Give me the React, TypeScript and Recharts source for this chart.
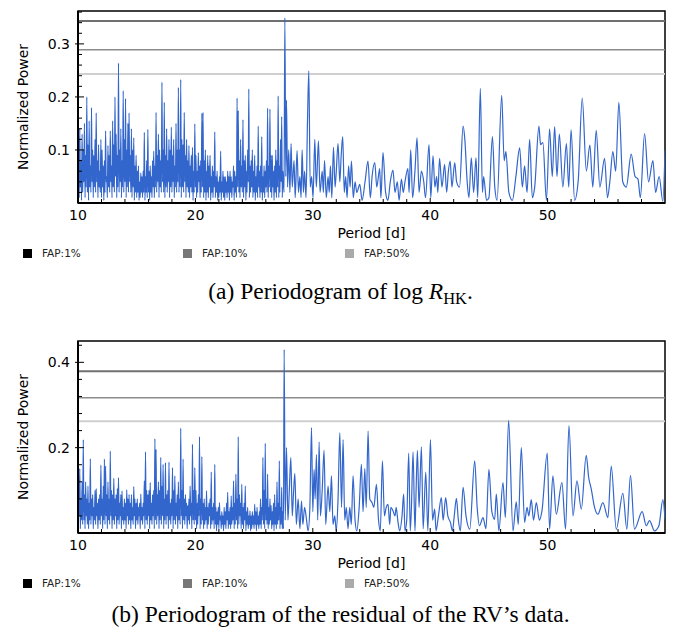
import React from 'react'
import { LineChart, Line, XAxis, YAxis, ReferenceLine, ReferenceArea } from 'recharts'

// (a) log R'HK periodogram
// 10–27.5 d read on a 0.05 d grid (troughs and peaks alternate), the rest as [period, power]
const hkDense = [
  0.02, 0.12, 0.01, 0.14, 0.03, 0.08, 0.005, 0.13, 0.02, 0.1,
  0.04, 0.15, 0.01, 0.09, 0.03, 0.2, 0.02, 0.11, 0.005, 0.155,
  0.03, 0.07, 0.02, 0.18, 0.04, 0.1, 0.01, 0.09, 0.03, 0.12,
  0.02, 0.17, 0.04, 0.08, 0.01, 0.11, 0.03, 0.06, 0.02, 0.12,
  0.01, 0.1, 0.03, 0.07, 0.005, 0.08, 0.02, 0.136, 0.04, 0.05,
  0.01, 0.108, 0.03, 0.09, 0.02, 0.136, 0.04, 0.07, 0.01, 0.155,
  0.03, 0.11, 0.02, 0.2, 0.05, 0.13, 0.01, 0.09, 0.03, 0.264,
  0.02, 0.1, 0.04, 0.14, 0.01, 0.08, 0.03, 0.212, 0.02, 0.12,
  0.04, 0.197, 0.01, 0.1, 0.03, 0.15, 0.02, 0.17, 0.04, 0.09,
  0.02, 0.14, 0.01, 0.1, 0.03, 0.123, 0.005, 0.07, 0.02, 0.09,
  0.01, 0.06, 0.02, 0.07, 0.005, 0.04, 0.01, 0.057, 0.02, 0.05,
  0.01, 0.06, 0.02, 0.133, 0.005, 0.05, 0.02, 0.08, 0.01, 0.139,
  0.02, 0.06, 0.005, 0.07, 0.02, 0.05, 0.01, 0.08, 0.03, 0.098,
  0.01, 0.07, 0.03, 0.171, 0.02, 0.09, 0.04, 0.13, 0.01, 0.1,
  0.03, 0.08, 0.02, 0.228, 0.04, 0.1, 0.02, 0.19, 0.01, 0.09,
  0.03, 0.14, 0.02, 0.08, 0.04, 0.12, 0.01, 0.1, 0.03, 0.143,
  0.02, 0.09, 0.04, 0.12, 0.01, 0.07, 0.03, 0.15, 0.02, 0.1,
  0.04, 0.218, 0.02, 0.1, 0.03, 0.233, 0.01, 0.12, 0.03, 0.11,
  0.02, 0.171, 0.04, 0.09, 0.01, 0.12, 0.03, 0.08, 0.02, 0.108,
  0.01, 0.07, 0.03, 0.09, 0.02, 0.105, 0.005, 0.06, 0.02, 0.149,
  0.03, 0.09, 0.01, 0.06, 0.02, 0.095, 0.04, 0.07, 0.01, 0.08,
  0.02, 0.169, 0.03, 0.171, 0.01, 0.08, 0.02, 0.1, 0.005, 0.06,
  0.02, 0.09, 0.01, 0.07, 0.03, 0.09, 0.005, 0.05, 0.02, 0.07,
  0.01, 0.06, 0.03, 0.134, 0.01, 0.05, 0.02, 0.06, 0.005, 0.04,
  0.01, 0.05, 0.02, 0.098, 0.005, 0.04, 0.02, 0.06, 0.01, 0.05,
  0.005, 0.05, 0.02, 0.04, 0.01, 0.06, 0.02, 0.05, 0.005, 0.06,
  0.02, 0.05, 0.01, 0.04, 0.03, 0.07, 0.005, 0.06, 0.02, 0.05,
  0.01, 0.198, 0.03, 0.174, 0.02, 0.08, 0.01, 0.12, 0.03, 0.07,
  0.02, 0.157, 0.01, 0.08, 0.03, 0.09, 0.005, 0.06, 0.02, 0.1,
  0.04, 0.215, 0.01, 0.07, 0.02, 0.08, 0.03, 0.1, 0.01, 0.06,
  0.02, 0.09, 0.005, 0.05, 0.02, 0.07, 0.01, 0.145, 0.03, 0.06,
  0.01, 0.07, 0.02, 0.125, 0.005, 0.05, 0.02, 0.07, 0.01, 0.06,
  0.03, 0.08, 0.02, 0.179, 0.01, 0.07, 0.03, 0.177, 0.02, 0.09,
  0.01, 0.09, 0.03, 0.06, 0.005, 0.07, 0.02, 0.1, 0.01, 0.08,
  0.03, 0.202, 0.01, 0.07, 0.02, 0.12, 0.04, 0.163, 0.01, 0.06,
]
const hkTail = [
  [27.55, 0.02], [27.62, 0.349], [27.7, 0.05], [27.76, 0.194], [27.85, 0.03], [27.95, 0.1],
  [28.05, 0.02], [28.15, 0.112], [28.25, 0.03], [28.4, 0.08], [28.5, 0.01], [28.66, 0.099],
  [28.78, 0.02], [28.9, 0.05], [29.0, 0.01], [29.09, 0.1], [29.2, 0.02], [29.3, 0.06],
  [29.42, 0.01], [29.55, 0.156], [29.66, 0.249], [29.78, 0.03], [29.9, 0.05], [30.02, 0.01],
  [30.17, 0.12], [30.3, 0.03], [30.48, 0.117], [30.62, 0.02], [30.8, 0.06], [30.9, 0.02],
  [31.0, 0.08], [31.15, 0.01], [31.3, 0.05], [31.4, 0.02], [31.5, 0.07], [31.62, 0.01],
  [31.76, 0.105], [31.9, 0.03], [32.0, 0.06], [32.15, 0.112], [32.3, 0.04], [32.42, 0.09],
  [32.55, 0.125], [32.68, 0.02], [32.8, 0.05], [32.92, 0.01], [33.05, 0.07], [33.18, 0.03],
  [33.29, 0.079], [33.45, 0.01], [33.6, 0.04], [33.75, 0.02], [34.0, 0.035], [34.2, 0.005],
  [34.45, 0.04], [34.7, 0.079], [34.9, 0.01], [35.05, 0.05], [35.28, 0.076], [35.45, 0.03],
  [35.7, 0.065], [35.8, 0.01], [35.98, 0.095], [36.2, 0.02], [36.4, 0.005], [36.6, 0.04],
  [36.83, 0.062], [37.0, 0.02], [37.2, 0.04], [37.35, 0.005], [37.55, 0.045], [37.7, 0.02],
  [37.85, 0.04], [38.1, 0.065], [38.2, 0.02], [38.34, 0.1], [38.5, 0.01], [38.7, 0.06],
  [38.88, 0.123], [39.05, 0.02], [39.25, 0.06], [39.45, 0.04], [39.6, 0.01], [39.9, 0.11],
  [40.05, 0.01], [40.24, 0.089], [40.4, 0.03], [40.55, 0.05], [40.65, 0.02], [40.8, 0.084],
  [41.0, 0.03], [41.23, 0.073], [41.4, 0.02], [41.55, 0.06], [41.7, 0.079], [41.85, 0.03],
  [42.09, 0.076], [42.25, 0.04], [42.5, 0.03], [42.8, 0.145], [42.95, 0.12], [43.15, 0.04],
  [43.3, 0.01], [43.5, 0.085], [43.7, 0.02], [43.9, 0.085], [44.05, 0.01], [44.27, 0.216],
  [44.45, 0.02], [44.55, 0.05], [44.8, 0.005], [45.0, 0.01], [45.3, 0.125], [45.5, 0.03],
  [45.7, 0.005], [46.09, 0.203], [46.3, 0.08], [46.45, 0.097], [46.7, 0.02], [47.0, 0.005],
  [47.3, 0.05], [47.62, 0.104], [47.85, 0.03], [48.04, 0.07], [48.25, 0.02], [48.47, 0.12],
  [48.7, 0.01], [48.9, 0.03], [49.26, 0.145], [49.4, 0.11], [49.6, 0.114], [49.9, 0.005],
  [50.17, 0.14], [50.4, 0.05], [50.6, 0.144], [50.8, 0.05], [51.0, 0.13], [51.3, 0.03],
  [51.6, 0.112], [51.8, 0.03], [52.0, 0.138], [52.3, 0.005], [52.6, 0.04], [52.95, 0.198],
  [53.3, 0.06], [53.6, 0.109], [53.85, 0.03], [54.14, 0.137], [54.45, 0.03], [54.85, 0.084],
  [55.1, 0.01], [55.3, 0.04], [55.56, 0.097], [55.8, 0.06], [56.07, 0.19], [56.4, 0.04],
  [56.7, 0.03], [57.12, 0.092], [57.45, 0.05], [57.7, 0.045], [57.9, 0.01], [58.26, 0.131],
  [58.6, 0.04], [58.97, 0.08], [59.2, 0.02], [59.5, 0.05], [59.82, 0.003], [60.0, 0.1],
]
const hkFap = [0.343, 0.289, 0.243]

// (b) residual RV periodogram
const rvDense = [
  0.02, 0.1, 0.04, 0.151, 0.01, 0.08, 0.03, 0.12, 0.02, 0.219,
  0.03, 0.09, 0.01, 0.12, 0.04, 0.08, 0.02, 0.11, 0.01, 0.07,
  0.03, 0.174, 0.02, 0.08, 0.04, 0.09, 0.01, 0.06, 0.03, 0.1,
  0.02, 0.104, 0.04, 0.07, 0.01, 0.08, 0.03, 0.09, 0.02, 0.159,
  0.04, 0.08, 0.01, 0.11, 0.03, 0.173, 0.02, 0.157, 0.04, 0.09,
  0.01, 0.12, 0.03, 0.08, 0.02, 0.192, 0.04, 0.1, 0.01, 0.09,
  0.03, 0.128, 0.02, 0.08, 0.04, 0.09, 0.01, 0.104, 0.03, 0.13,
  0.02, 0.07, 0.04, 0.09, 0.01, 0.099, 0.03, 0.06, 0.02, 0.08,
  0.03, 0.07, 0.01, 0.101, 0.04, 0.08, 0.02, 0.09, 0.03, 0.07,
  0.01, 0.09, 0.03, 0.06, 0.02, 0.109, 0.04, 0.08, 0.01, 0.07,
  0.03, 0.08, 0.02, 0.06, 0.04, 0.07, 0.01, 0.091, 0.03, 0.06,
  0.02, 0.07, 0.04, 0.122, 0.01, 0.19, 0.03, 0.1, 0.02, 0.09,
  0.04, 0.1, 0.01, 0.118, 0.03, 0.07, 0.02, 0.09, 0.04, 0.1,
  0.01, 0.221, 0.03, 0.196, 0.02, 0.09, 0.04, 0.12, 0.01, 0.1,
  0.03, 0.177, 0.02, 0.11, 0.04, 0.161, 0.01, 0.08, 0.03, 0.165,
  0.02, 0.09, 0.04, 0.1, 0.01, 0.166, 0.03, 0.07, 0.02, 0.08,
  0.04, 0.153, 0.01, 0.1, 0.03, 0.134, 0.02, 0.07, 0.04, 0.09,
  0.01, 0.12, 0.03, 0.08, 0.02, 0.246, 0.04, 0.1, 0.01, 0.173,
  0.03, 0.08, 0.02, 0.09, 0.04, 0.07, 0.01, 0.064, 0.03, 0.08,
  0.02, 0.11, 0.04, 0.07, 0.01, 0.208, 0.03, 0.1, 0.02, 0.153,
  0.03, 0.1, 0.01, 0.07, 0.02, 0.09, 0.04, 0.226, 0.01, 0.08,
  0.02, 0.179, 0.03, 0.07, 0.01, 0.08, 0.02, 0.06, 0.03, 0.099,
  0.01, 0.06, 0.02, 0.07, 0.04, 0.08, 0.01, 0.143, 0.02, 0.06,
  0.03, 0.07, 0.01, 0.161, 0.02, 0.06, 0.005, 0.05, 0.02, 0.06,
  0.01, 0.071, 0.03, 0.04, 0.01, 0.05, 0.02, 0.04, 0.005, 0.06,
  0.02, 0.05, 0.01, 0.07, 0.03, 0.095, 0.01, 0.05, 0.02, 0.06,
  0.01, 0.087, 0.02, 0.06, 0.03, 0.122, 0.01, 0.07, 0.02, 0.138,
  0.03, 0.08, 0.01, 0.226, 0.02, 0.09, 0.04, 0.07, 0.01, 0.114,
  0.02, 0.06, 0.01, 0.07, 0.03, 0.11, 0.005, 0.05, 0.02, 0.06,
  0.01, 0.04, 0.02, 0.052, 0.005, 0.04, 0.01, 0.05, 0.02, 0.04,
  0.01, 0.068, 0.02, 0.05, 0.005, 0.06, 0.02, 0.04, 0.01, 0.05,
  0.02, 0.08, 0.01, 0.06, 0.03, 0.177, 0.02, 0.1, 0.01, 0.21,
  0.03, 0.08, 0.02, 0.138, 0.01, 0.06, 0.02, 0.08, 0.03, 0.064,
  0.01, 0.05, 0.02, 0.07, 0.005, 0.09, 0.02, 0.06, 0.01, 0.12,
  0.02, 0.07, 0.03, 0.169, 0.01, 0.06, 0.02, 0.107, 0.01, 0.05,
]
const rvTail = [
  [27.5, 0.01], [27.56, 0.43], [27.65, 0.03], [27.76, 0.2], [27.88, 0.03], [28.0, 0.1],
  [28.13, 0.177], [28.25, 0.04], [28.35, 0.09], [28.47, 0.14], [28.6, 0.02], [28.75, 0.08],
  [28.9, 0.01], [29.04, 0.075], [29.15, 0.02], [29.3, 0.06], [29.46, 0.032], [29.6, 0.005],
  [29.75, 0.06], [29.89, 0.247], [30.0, 0.05], [30.11, 0.149], [30.2, 0.08], [30.31, 0.184],
  [30.42, 0.03], [30.54, 0.213], [30.65, 0.04], [30.8, 0.1], [30.96, 0.194], [31.1, 0.02],
  [31.3, 0.11], [31.45, 0.05], [31.59, 0.134], [31.72, 0.02], [31.87, 0.04], [32.0, 0.005],
  [32.15, 0.08], [32.3, 0.235], [32.45, 0.06], [32.58, 0.219], [32.72, 0.03], [32.85, 0.06],
  [33.0, 0.01], [33.15, 0.06], [33.28, 0.02], [33.43, 0.134], [33.6, 0.03], [33.75, 0.005],
  [33.95, 0.06], [34.14, 0.161], [34.28, 0.05], [34.43, 0.151], [34.55, 0.06], [34.71, 0.239],
  [34.85, 0.08], [35.05, 0.071], [35.2, 0.06], [35.42, 0.114], [35.6, 0.03], [35.75, 0.005],
  [35.93, 0.169], [36.1, 0.04], [36.25, 0.06], [36.41, 0.067], [36.55, 0.02], [36.65, 0.06],
  [36.83, 0.052], [37.0, 0.04], [37.1, 0.06], [37.26, 0.025], [37.4, 0.005], [37.6, 0.04],
  [37.74, 0.091], [37.85, 0.005], [38.0, 0.03], [38.17, 0.187], [38.3, 0.005], [38.4, 0.06],
  [38.54, 0.19], [38.7, 0.005], [38.78, 0.08], [38.91, 0.194], [39.05, 0.06], [39.25, 0.202],
  [39.4, 0.01], [39.62, 0.143], [39.8, 0.005], [40.02, 0.219], [40.2, 0.03], [40.38, 0.056],
  [40.5, 0.005], [40.7, 0.04], [40.95, 0.083], [41.1, 0.03], [41.32, 0.083], [41.5, 0.04],
  [41.72, 0.025], [41.9, 0.005], [42.05, 0.04], [42.23, 0.081], [42.4, 0.03], [42.57, 0.005],
  [42.8, 0.107], [43.05, 0.04], [43.37, 0.009], [43.79, 0.169], [44.0, 0.06], [44.2, 0.017],
  [44.5, 0.036], [44.75, 0.01], [45.0, 0.149], [45.25, 0.05], [45.49, 0.032], [45.63, 0.091],
  [45.85, 0.005], [46.2, 0.118], [46.4, 0.036], [46.68, 0.264], [47.05, 0.005], [47.33, 0.073],
  [47.5, 0.02], [47.76, 0.2], [48.04, 0.025], [48.25, 0.06], [48.4, 0.04], [48.61, 0.078],
  [48.8, 0.03], [49.04, 0.071], [49.3, 0.03], [49.52, 0.052], [49.97, 0.187], [50.17, 0.009],
  [50.45, 0.134], [50.74, 0.044], [51.22, 0.118], [51.53, 0.009], [51.82, 0.252], [52.16, 0.04],
  [52.5, 0.122], [52.87, 0.056], [53.29, 0.182], [53.5, 0.13], [53.72, 0.103], [54.0, 0.06],
  [54.28, 0.044], [54.71, 0.071], [55.14, 0.036], [55.42, 0.157], [55.85, 0.009], [56.41, 0.093],
  [56.75, 0.009], [57.06, 0.135], [57.4, 0.009], [58.06, 0.05], [58.4, 0.017], [58.68, 0.029],
  [59.11, 0.005], [59.48, 0.017], [59.82, 0.078], [60.0, 0.032],
]
const rvFap = [0.379, 0.317, 0.262]

const periodTicks = [10, 12, 14, 16, 18, 20, 22, 24, 26, 28, 30, 32, 34, 36, 38, 40, 42, 44, 46, 48, 50, 52, 54, 56, 58]
const periodLabels = [10, 20, 30, 40, 50]
const hkPowerTicks = [0.02, 0.04, 0.06, 0.08, 0.1, 0.12, 0.14, 0.16, 0.18, 0.2, 0.22, 0.24, 0.26, 0.28, 0.3, 0.32, 0.34, 0.36]
const hkPowerLabels = [0.1, 0.2, 0.3]
const rvPowerTicks = [0.04, 0.08, 0.12, 0.16, 0.2, 0.24, 0.28, 0.32, 0.36, 0.4, 0.44]
const rvPowerLabels = [0.2, 0.4]
const fapNames = ['FAP:1%', 'FAP:10%', 'FAP:50%']

const fapLineColors = ['#707070', '#8c8c8c', '#cfcfcf']
const fapLineWidths = [2, 1.5, 2]
const fapLegendColors = ['#000000', '#777777', '#aaaaaa']
const legendX = [23, 183, 345]

// dense part sits on a 0.05 d grid starting at 10 d
const buildData = (dense: number[], tail: number[][]) => {
  const rows: { period: number; power: number }[] = []
  dense.forEach((p, i) => rows.push({ period: +(10 + i * 0.05).toFixed(2), power: p }))
  tail.forEach(([period, power]) => rows.push({ period, power }))
  return rows
}

const hkData = buildData(hkDense, hkTail)
const rvData = buildData(rvDense, rvTail)

const PeriodTick = (props: any) => {
  const { x, y, payload } = props
  const major = periodLabels.includes(payload.value)
  return (
    <g>
      <line x1={x} y1={y} x2={x} y2={y - (major ? 5 : 4)} stroke="#000" strokeWidth={1} />
      {major && (
        <text x={x} y={y + 17} textAnchor="middle" fontSize={14} fill="#000">
          {payload.value}
        </text>
      )}
    </g>
  )
}

const makePowerTick = (labels: number[]) => (props: any) => {
  const { x, y, payload } = props
  const major = labels.includes(payload.value)
  return (
    <g>
      <line x1={major ? x - 3 : x} y1={y} x2={x + (major ? 6 : 4)} y2={y} stroke="#000" strokeWidth={1} />
      {major && (
        <text x={x - 8} y={y + 5} textAnchor="end" fontSize={14} fill="#000">
          {payload.value}
        </text>
      )}
    </g>
  )
}

const Periodogram = ({ data, yMax, yTicks, yLabels, faps }: any) => (
  <LineChart width={681} height={243} data={data} margin={{ top: 11, right: 16, bottom: 0, left: 0 }}>
    <XAxis
      type="number"
      dataKey="period"
      domain={[10, 60]}
      ticks={periodTicks}
      interval={0}
      tickSize={0}
      tickMargin={0}
      tickLine={false}
      tick={<PeriodTick />}
      axisLine={{ stroke: '#000', strokeWidth: 2 }}
      height={40}
      allowDataOverflow
      label={{ value: 'Period [d]', position: 'insideBottom', offset: 5, fill: '#000', fontSize: 14 }}
    />
    <YAxis
      type="number"
      domain={[0, yMax]}
      ticks={yTicks}
      interval={0}
      tickSize={0}
      tickMargin={0}
      tickLine={false}
      tick={makePowerTick(yLabels)}
      axisLine={{ stroke: '#000', strokeWidth: 2 }}
      width={78}
      allowDataOverflow
      label={{
        value: 'Normalized Power',
        angle: -90,
        position: 'insideLeft',
        offset: 23,
        fill: '#000',
        fontSize: 14,
        style: { textAnchor: 'middle' },
      }}
    />
    {faps.map((v: number, i: number) => (
      <ReferenceLine key={i} y={v} stroke={fapLineColors[i]} strokeWidth={fapLineWidths[i]} />
    ))}
    <Line
      type="monotone"
      dataKey="power"
      stroke="#3366cc"
      strokeWidth={1.2}
      dot={false}
      isAnimationActive={false}
    />
    <ReferenceArea x1={10} x2={60} y1={0} y2={yMax} fill="none" stroke="#000" strokeWidth={1.5} fillOpacity={0} />
  </LineChart>
)

const FapLegend = ({ top }: { top: number }) => (
  <div style={{ position: 'absolute', top, left: 0, width: 681, height: 12, fontSize: 10.5 }}>
    {fapNames.map((name, i) => (
      <div
        key={name}
        style={{ position: 'absolute', left: legendX[i], top: 0, display: 'flex', alignItems: 'center', height: 12 }}
      >
        <span style={{ display: 'inline-block', width: 9, height: 9, background: fapLegendColors[i], marginRight: 10 }} />
        <span style={{ color: '#222' }}>{name}</span>
      </div>
    ))}
  </div>
)

const captionStyle: React.CSSProperties = {
  position: 'absolute',
  left: 0,
  width: 681,
  textAlign: 'center',
  fontFamily: '"Liberation Serif", serif',
  fontSize: 23.5,
  lineHeight: '24px',
  color: '#000',
}

export default function App() {
  return (
    <div
      style={{
        position: 'absolute',
        left: 0,
        top: 0,
        width: 681,
        height: 628,
        background: '#fff',
        fontFamily: '"DejaVu Sans", sans-serif',
      }}
    >
      <div style={{ position: 'absolute', left: 0, top: 0 }}>
        <Periodogram data={hkData} yMax={0.362} yTicks={hkPowerTicks} yLabels={hkPowerLabels} faps={hkFap} />
      </div>
      <FapLegend top={247} />
      <div style={{ ...captionStyle, top: 279 }}>
        (a) Periodogram of log <i>R</i>
        <span style={{ fontSize: '0.7em', position: 'relative', top: '0.3em' }}>HK</span>.
      </div>

      <div style={{ position: 'absolute', left: 0, top: 330 }}>
        <Periodogram data={rvData} yMax={0.45} yTicks={rvPowerTicks} yLabels={rvPowerLabels} faps={rvFap} />
      </div>
      <FapLegend top={577} />
      <div style={{ ...captionStyle, top: 602 }}>(b) Periodogram of the residual of the RV’s data.</div>
    </div>
  )
}
